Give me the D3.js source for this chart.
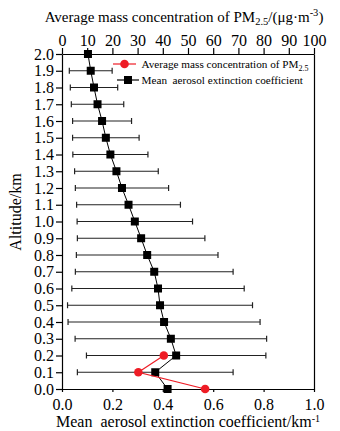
<!DOCTYPE html>
<html>
<head>
<meta charset="utf-8">
<script src="https://cdn.jsdelivr.net/npm/d3@7"></script>
<style>
  body { margin: 0; background: #fff; }
  svg { display: block; }
  svg text { font-family: "Liberation Serif", "Times New Roman", "DejaVu Serif", serif; }
</style>
</head>
<body>
<svg id="chart" width="340" height="431"></svg>
<script>
// altitude levels (km)
const altitudes = [0.0, 0.1, 0.2, 0.3, 0.4, 0.5, 0.6, 0.7, 0.8, 0.9, 1.0,
                   1.1, 1.2, 1.3, 1.4, 1.5, 1.6, 1.7, 1.8, 1.9, 2.0];
// mean aerosol extinction coefficient (km^-1)
const extinction = [0.419, 0.370, 0.453, 0.432, 0.405, 0.389, 0.381, 0.366, 0.338, 0.314, 0.289,
                    0.264, 0.238, 0.216, 0.192, 0.174, 0.159, 0.141, 0.127, 0.114, 0.103];
// standard deviation (error bar half-width), null where not shown
const extinctionStd = [null, 0.309, 0.356, 0.380, 0.381, 0.367, 0.342, 0.313, 0.281, 0.253, 0.229,
                       0.206, 0.185, 0.166, 0.149, 0.132, 0.117, 0.104, 0.094, 0.085, null];
// PM2.5 mass concentration near the ground
const pmAltitudes = [0.0, 0.1, 0.2];
const pmValues = [56.8, 30.3, 40.4];

const xTicks = [0, 0.2, 0.4, 0.6, 0.8, 1.0];
const pmTicks = [0, 10, 20, 30, 40, 50, 60, 70, 80, 90, 100];

const svg = d3.select('#chart');
const margin = { top: 54, right: 26, bottom: 42, left: 62 };
const width = 340, height = 431;

const x = d3.scaleLinear().domain([0, 1]).range([margin.left, width - margin.right]);
const xPm = d3.scaleLinear().domain([0, 100]).range([margin.left, width - margin.right]);
const y = d3.scaleLinear().domain([0, 2]).range([height - margin.bottom, margin.top]);

const ink = '#000';
const red = '#ee1c25';

// axes
const axBottom = svg.append('g')
  .attr('transform', `translate(0,${y(0)})`)
  .call(d3.axisBottom(x).tickValues(xTicks).tickFormat(d3.format('.1f')).tickSize(3).tickPadding(7).tickSizeOuter(0));
const axTop = svg.append('g')
  .attr('transform', `translate(0,${y(2)})`)
  .call(d3.axisTop(xPm).tickValues(pmTicks).tickFormat(d3.format('d')).tickSize(6).tickPadding(2).tickSizeOuter(0));
const axLeft = svg.append('g')
  .attr('transform', `translate(${x(0)},0)`)
  .call(d3.axisLeft(y).tickValues(altitudes).tickFormat(d3.format('.1f')).tickSize(6).tickPadding(2).tickSizeOuter(0));
const axRight = svg.append('g')
  .attr('transform', `translate(${x(1)},0)`)
  .call(d3.axisRight(y).tickValues([]).tickSizeOuter(0));

[axBottom, axTop, axLeft, axRight].forEach(g => {
  g.attr('font-family', null).attr('font-size', null);
  g.selectAll('path, line').attr('stroke', ink).attr('stroke-width', 1.2);
  g.selectAll('text').attr('font-size', 16).attr('fill', ink);
});

// error bars
const errData = altitudes.map((a, i) => ({ a, v: extinction[i], s: extinctionStd[i] })).filter(d => d.s != null);
const eb = svg.append('g').attr('stroke', '#222').attr('stroke-width', 1.2);
eb.selectAll('line.h').data(errData).enter().append('line')
  .attr('x1', d => x(d.v - d.s)).attr('x2', d => x(d.v + d.s))
  .attr('y1', d => y(d.a)).attr('y2', d => y(d.a));
eb.selectAll('line.l').data(errData).enter().append('line')
  .attr('x1', d => x(d.v - d.s)).attr('x2', d => x(d.v - d.s))
  .attr('y1', d => y(d.a) - 3).attr('y2', d => y(d.a) + 3);
eb.selectAll('line.r').data(errData).enter().append('line')
  .attr('x1', d => x(d.v + d.s)).attr('x2', d => x(d.v + d.s))
  .attr('y1', d => y(d.a) - 3).attr('y2', d => y(d.a) + 3);

// extinction line + squares
const extData = altitudes.map((a, i) => ({ a, v: extinction[i] }));
svg.append('path').datum(extData)
  .attr('fill', 'none').attr('stroke', ink).attr('stroke-width', 1)
  .attr('d', d3.line().x(d => x(d.v)).y(d => y(d.a)));
svg.selectAll('rect.sq').data(extData).enter().append('rect')
  .attr('x', d => x(d.v) - 4).attr('y', d => y(d.a) - 4)
  .attr('width', 8).attr('height', 8).attr('fill', ink);

// PM2.5 line + circles
const pmData = pmAltitudes.map((a, i) => ({ a, v: pmValues[i] }));
svg.append('path').datum(pmData)
  .attr('fill', 'none').attr('stroke', red).attr('stroke-width', 1.2)
  .attr('d', d3.line().x(d => xPm(d.v)).y(d => y(d.a)));
svg.selectAll('circle.pm').data(pmData).enter().append('circle')
  .attr('cx', d => xPm(d.v)).attr('cy', d => y(d.a)).attr('r', 4.3).attr('fill', red);

// legend
const lg = svg.append('g').attr('font-size', 11.2).attr('fill', ink);
lg.append('line').attr('x1', 113).attr('x2', 136).attr('y1', 64).attr('y2', 64).attr('stroke', red).attr('stroke-width', 1.2);
lg.append('circle').attr('cx', 124.5).attr('cy', 64).attr('r', 4.3).attr('fill', red);
const t1 = lg.append('text').attr('x', 141.5).attr('y', 68);
t1.append('tspan').text('Average mass concentration of PM');
t1.append('tspan').attr('font-size', 8).attr('dy', 2.5).text('2.5');
lg.append('line').attr('x1', 117).attr('x2', 139).attr('y1', 80).attr('y2', 80).attr('stroke', ink).attr('stroke-width', 1.2);
lg.append('rect').attr('x', 124).attr('y', 76).attr('width', 8).attr('height', 8).attr('fill', ink);
lg.append('text').attr('x', 141.5).attr('y', 84).attr('xml:space', 'preserve').text('Mean  aerosol extinction coefficient');

// axis titles
const tt = svg.append('text').attr('x', 184).attr('y', 22).attr('text-anchor', 'middle').attr('font-size', 15).attr('fill', ink);
tt.append('tspan').text('Average mass concentration of PM');
tt.append('tspan').attr('font-size', 10.5).attr('dy', 3).text('2.5');
tt.append('tspan').attr('dy', -3).text('/(μg·m');
tt.append('tspan').attr('font-size', 10.5).attr('dy', -6).text('-3');
tt.append('tspan').attr('dy', 6).text(')');

const bt = svg.append('text').attr('x', 188).attr('y', 427).attr('text-anchor', 'middle').attr('font-size', 16).attr('fill', ink).attr('xml:space', 'preserve');
bt.append('tspan').text('Mean  aerosol extinction coefficient/km');
bt.append('tspan').attr('font-size', 10).attr('dy', -5).text('-1');

svg.append('text').attr('transform', 'translate(21,212) rotate(-90)')
  .attr('text-anchor', 'middle').attr('font-size', 16).attr('fill', ink).text('Altitude/km');
</script>
</body>
</html>
